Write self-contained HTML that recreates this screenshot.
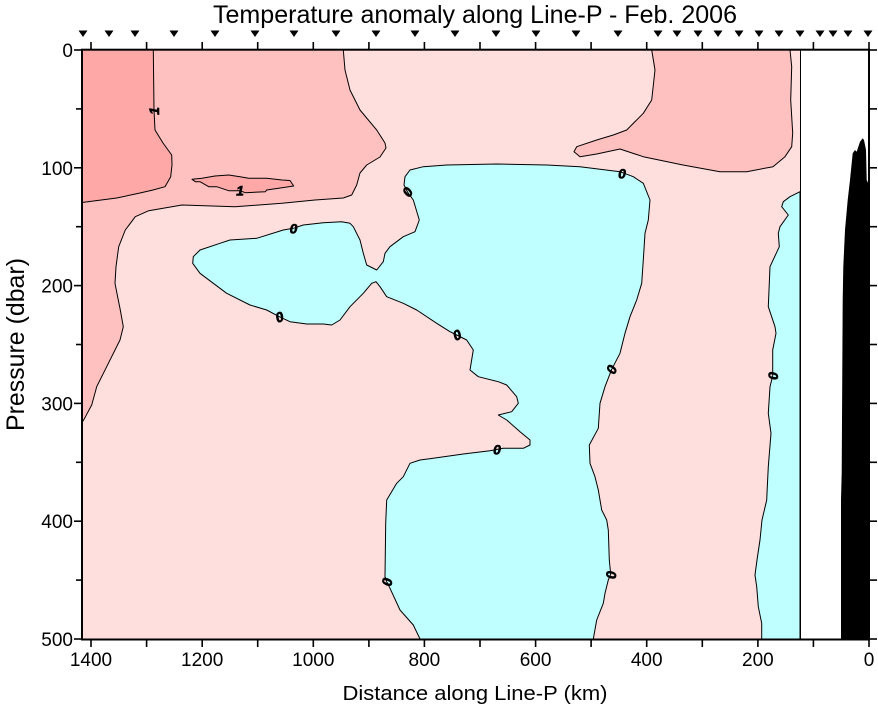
<!DOCTYPE html>
<html><head><meta charset="utf-8"><style>
html,body{margin:0;padding:0;background:#fff;}
svg{display:block;}
text{font-family:"Liberation Sans",Arial,sans-serif;fill:#000;}
</style></head><body>
<svg width="878" height="708" viewBox="0 0 878 708" xmlns="http://www.w3.org/2000/svg">
<rect x="0" y="0" width="878" height="708" fill="#fff"/>
<!-- title -->
<text x="475" y="23" font-size="25" text-anchor="middle" textLength="524" lengthAdjust="spacingAndGlyphs">Temperature anomaly along Line-P - Feb. 2006</text>

<!-- station triangles -->
<g fill="#000">
<path d="M78.5,30.5h9l-4.5,6.5z"/><path d="M104.5,30.5h9l-4.5,6.5z"/><path d="M130.5,30.5h9l-4.5,6.5z"/><path d="M169.5,30.5h9l-4.5,6.5z"/><path d="M210.5,30.5h9l-4.5,6.5z"/><path d="M250.5,30.5h9l-4.5,6.5z"/><path d="M289.5,30.5h9l-4.5,6.5z"/><path d="M331.5,30.5h9l-4.5,6.5z"/><path d="M371.5,30.5h9l-4.5,6.5z"/><path d="M410.5,30.5h9l-4.5,6.5z"/><path d="M450.5,30.5h9l-4.5,6.5z"/><path d="M491.5,30.5h9l-4.5,6.5z"/><path d="M531.5,30.5h9l-4.5,6.5z"/><path d="M571.5,30.5h9l-4.5,6.5z"/><path d="M613.5,30.5h9l-4.5,6.5z"/><path d="M653.5,30.5h9l-4.5,6.5z"/><path d="M672.5,30.5h9l-4.5,6.5z"/><path d="M693.5,30.5h9l-4.5,6.5z"/><path d="M713.5,30.5h9l-4.5,6.5z"/><path d="M734.5,30.5h9l-4.5,6.5z"/><path d="M754.5,30.5h9l-4.5,6.5z"/><path d="M774.5,30.5h9l-4.5,6.5z"/><path d="M795.5,30.5h9l-4.5,6.5z"/><path d="M815.5,30.5h9l-4.5,6.5z"/><path d="M828.5,30.5h9l-4.5,6.5z"/><path d="M843.5,30.5h9l-4.5,6.5z"/><path d="M863.5,30.5h9l-4.5,6.5z"/>
</g>

<!-- data fill -->
<rect x="82" y="50" width="718" height="589" fill="#FFDEDE"/>
<g stroke="#000" stroke-width="1" stroke-linejoin="round">
<polygon fill="#FFC0C0" points="82,50 343.3,50 345,70 350,90 360,110 376.7,130 385,143 386,148 380,157 366.7,165 360,173 356.7,185 351.7,195 343.3,198 315,200 282,203.3 235,206.7 182,205 148.7,210.7 135.3,216.7 125.3,230 118.7,246.7 116,266.7 115,283.3 116.3,290 120.3,310 123.3,326.7 120,340 106.7,366.7 96.7,386.7 91.7,405 83.3,420.7 82,421.7"/>
<polygon fill="#FFA8A8" points="82,50 153.3,50 154,110 155,130 163,143 171.7,155 172,165 170.7,176.7 165,186.7 153,190 140,193 116.7,198 82,202.5"/>
<polygon fill="#FFA8A8" points="192,179.3 202,178.3 215,176 228.7,175 240,176.7 248.7,178.3 266.7,178.3 282,180 290,180.5 293.7,186 266.7,190 265.3,191.7 245.3,192.7 240,190.7 228.7,190.7 216.7,186.7 208.7,186.7 200,181.7 195.3,181.7"/>
<polygon fill="#FFC0C0" points="651.7,50 655,70 651.7,100 643.3,113.3 626.7,130 613.3,135 596.7,140 576.7,146.7 574,151.7 580,156.7 596.7,154 620,149 643.3,156.7 683,165 720,171.7 746.7,171.7 773,166.7 785,156.7 791.7,146.7 792.7,133 790.7,100 791.7,66.7 790,50"/>
<polygon fill="#C0FFFF" points="404,185 405,176.7 410,170 423.3,166.7 446.7,165 496.7,164 546.7,165 580,166.7 620,171.7 633.3,176.7 643.3,183.3 650,200 648.3,220 645,233.3 643.3,260 641.7,283.3 636.7,300 630,316.7 625,333.3 620,353.3 611.7,369.3 605,386.7 600,403.3 598.3,428.3 589.3,445 590,463.3 595,476.7 598.3,490 601.7,510 606.7,520 608.3,530 609.3,560 610.7,574.3 608.3,580 605,593.3 603.3,603.3 596.7,620 593.3,639 420,639 413.3,625 400,610 390,588.3 386.7,581.7 385,576.7 385.7,523.3 386.7,500 396.7,483.3 403.3,476.7 410,463.3 420,460 433.3,458.3 463.3,454 490,450.7 503.3,448.3 523.3,448.3 530,445 530,440 520,431.7 506.7,420 498.3,415 511.7,411.7 518.3,403.3 516.7,396.7 506.7,385 498.3,381.7 478.3,376.7 470,370 473.3,350 466.7,340 456.7,335 450,331.7 436.7,323.3 416.7,310 403.3,303.3 386.7,296.7 380,286.7 376,281.7 371.7,283.3 363.3,293.3 350,306.7 340,320 331.7,325 323.3,324 306.7,324 290,321.7 279.3,316.7 266.7,310 250,305 226.7,293.3 213.3,283.3 200,273.3 192.7,263.3 193.3,256.7 200,250 220,243.3 230,240 256.7,238.3 283.3,230 293.3,228.3 303.3,225 323.3,222.7 341.7,221.7 350,223.3 353.3,226.7 360,240 363.3,253.3 366.7,265 376.7,270 383.3,261.7 385,253.3 390,246.7 403.3,236.7 415,231.7 419.3,220 413.3,200 407.7,192.3"/>
<polygon fill="#C0FFFF" points="800,191.7 790,196.7 783.3,201.7 781.7,206.7 788.3,215 780,226.7 778.3,233.3 779.3,246.7 770,266.7 768.3,306.7 775,326.7 776,333.3 772.7,350 772.7,376 770,386.7 768.3,413.3 771,433.3 768.3,466.7 767.3,486.7 766.7,500 762,520 760,540 757,560 755,575 756.7,586.7 758.3,606.7 761.7,623.3 761.7,639 800,639"/>
</g>

<!-- contour labels -->
<g font-size="14" font-weight="bold" font-style="italic" text-anchor="middle" stroke="#000" stroke-width="0.6">
<text transform="translate(154,111) rotate(-90)" y="5">1</text>
<text x="240" y="195.5">1</text>
<text x="293.5" y="233.5">0</text>
<text transform="translate(279.5,317) rotate(-20)" y="5">0</text>
<text transform="translate(407.5,192) rotate(-55)" y="5">0</text>
<text transform="translate(457,335) rotate(-25)" y="5">0</text>
<text x="497" y="454.5">0</text>
<text transform="translate(387,582) rotate(-80)" y="5">0</text>
<text transform="translate(611.5,369.5) rotate(-65)" y="5">0</text>
<text transform="translate(611,575) rotate(-88)" y="5">0</text>
<text x="622" y="178.5">0</text>
<text transform="translate(773,376) rotate(-90)" y="5">0</text>
</g>

<line x1="800.5" y1="50" x2="800.5" y2="639" stroke="#000" stroke-width="1"/>

<polygon fill="#000" points="841,639 841,500 841.7,473 842.7,300 843.3,266.7 845,230 847.7,200 850,180 852.7,153.3 855,150 856.7,151.7 860,141.7 862.7,138.3 864,140 866,150 866.7,180 869,185 869,639"/>

<g stroke="#000" stroke-width="2" fill="none">
<rect x="82" y="49.7" width="787" height="589.8"/>
</g>
<g stroke="#000" stroke-width="1.6">
<line x1="74" y1="50" x2="82" y2="50"/><line x1="76" y1="108.9" x2="82" y2="108.9"/>
<line x1="74" y1="167.8" x2="82" y2="167.8"/><line x1="76" y1="226.7" x2="82" y2="226.7"/>
<line x1="74" y1="285.6" x2="82" y2="285.6"/><line x1="76" y1="344.5" x2="82" y2="344.5"/>
<line x1="74" y1="403.4" x2="82" y2="403.4"/><line x1="76" y1="462.3" x2="82" y2="462.3"/>
<line x1="74" y1="521.2" x2="82" y2="521.2"/><line x1="76" y1="580.1" x2="82" y2="580.1"/>
<line x1="74" y1="639" x2="82" y2="639"/>
<line x1="869" y1="108.9" x2="877" y2="108.9"/><line x1="869" y1="167.8" x2="877" y2="167.8"/>
<line x1="869" y1="226.7" x2="877" y2="226.7"/><line x1="869" y1="285.6" x2="877" y2="285.6"/>
<line x1="869" y1="344.5" x2="877" y2="344.5"/><line x1="869" y1="403.4" x2="877" y2="403.4"/>
<line x1="869" y1="462.3" x2="877" y2="462.3"/><line x1="869" y1="521.2" x2="877" y2="521.2"/>
<line x1="869" y1="580.1" x2="877" y2="580.1"/><line x1="869" y1="639" x2="877" y2="639"/>
<line x1="869" y1="50" x2="877" y2="50"/>
</g>
<g stroke="#000" stroke-width="1.6">
<line x1="91" y1="42" x2="91" y2="50"/><line x1="91" y1="639" x2="91" y2="647"/>
<line x1="146.6" y1="42" x2="146.6" y2="50"/><line x1="146.6" y1="639" x2="146.6" y2="647"/>
<line x1="202.2" y1="42" x2="202.2" y2="50"/><line x1="202.2" y1="639" x2="202.2" y2="647"/>
<line x1="257.7" y1="42" x2="257.7" y2="50"/><line x1="257.7" y1="639" x2="257.7" y2="647"/>
<line x1="313.3" y1="42" x2="313.3" y2="50"/><line x1="313.3" y1="639" x2="313.3" y2="647"/>
<line x1="368.9" y1="42" x2="368.9" y2="50"/><line x1="368.9" y1="639" x2="368.9" y2="647"/>
<line x1="424.4" y1="42" x2="424.4" y2="50"/><line x1="424.4" y1="639" x2="424.4" y2="647"/>
<line x1="480" y1="42" x2="480" y2="50"/><line x1="480" y1="639" x2="480" y2="647"/>
<line x1="535.6" y1="42" x2="535.6" y2="50"/><line x1="535.6" y1="639" x2="535.6" y2="647"/>
<line x1="591.1" y1="42" x2="591.1" y2="50"/><line x1="591.1" y1="639" x2="591.1" y2="647"/>
<line x1="646.7" y1="42" x2="646.7" y2="50"/><line x1="646.7" y1="639" x2="646.7" y2="647"/>
<line x1="702.3" y1="42" x2="702.3" y2="50"/><line x1="702.3" y1="639" x2="702.3" y2="647"/>
<line x1="757.9" y1="42" x2="757.9" y2="50"/><line x1="757.9" y1="639" x2="757.9" y2="647"/>
<line x1="813.4" y1="42" x2="813.4" y2="50"/><line x1="813.4" y1="639" x2="813.4" y2="647"/>
<line x1="869" y1="42" x2="869" y2="50"/><line x1="869" y1="639" x2="869" y2="647"/>
</g>

<g font-size="19" text-anchor="end">
<text x="73" y="57">0</text>
<text x="73" y="175">100</text>
<text x="73" y="292.5">200</text>
<text x="73" y="410.5">300</text>
<text x="73" y="528">400</text>
<text x="73" y="646">500</text>
</g>
<g font-size="19" text-anchor="middle">
<text x="91" y="666">1400</text>
<text x="202.2" y="666">1200</text>
<text x="313.3" y="666">1000</text>
<text x="424.4" y="666">800</text>
<text x="535.6" y="666">600</text>
<text x="646.7" y="666">400</text>
<text x="757.9" y="666">200</text>
<text x="869" y="666">0</text>
</g>

<text x="475" y="700" font-size="20" text-anchor="middle" textLength="265" lengthAdjust="spacingAndGlyphs">Distance along Line-P (km)</text>
<text transform="translate(24,344.5) rotate(-90)" font-size="25" text-anchor="middle" textLength="173" lengthAdjust="spacingAndGlyphs">Pressure (dbar)</text>
</svg>
</body></html>
